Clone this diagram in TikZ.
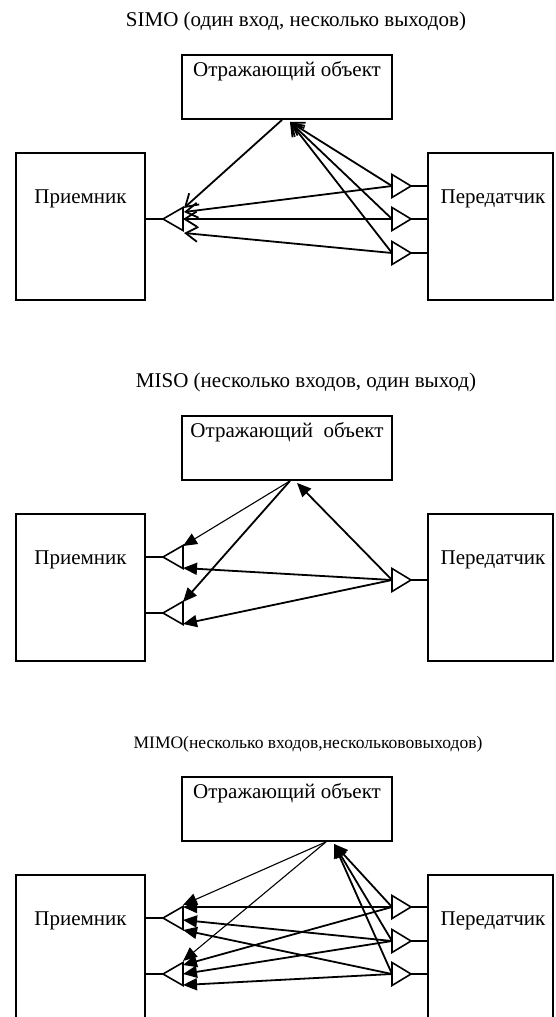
\documentclass[tikz,border=0pt]{standalone}
\usepackage{fontspec}
\setmainfont{Liberation Serif}
\usetikzlibrary{arrows.meta,positioning}

\tikzset{
  blk/.style={draw, line width=1.8pt, inner sep=0pt},
  lab/.style={font=\fontsize{21}{25}\selectfont, inner sep=0pt, anchor=base},
  ant/.style={line width=1.6pt},
  ray/.style={line width=1.8pt},
  thinray/.style={line width=1.1pt},
  vee/.style={-{Straight Barb[length=12pt,width=15pt]}},
  tri/.style={-{Triangle[length=14pt,width=12pt]}},
}

% receiver / transmitter antenna: name, y
\newcommand\rxant[2]{%
  \coordinate (#1) at (183,#2);
  \draw[ant] (rx.east |- #1) -- (163,#2);
  \draw[ant] (163,#2) -- (183,#2-11.5) -- (183,#2+11.5) -- cycle;}
\newcommand\txant[2]{%
  \coordinate (#1) at (392,#2);
  \draw[ant] (tx.west |- #1) -- (411,#2);
  \draw[ant] (411,#2) -- (392,#2-11.5) -- (392,#2+11.5) -- cycle;}

% the three blocks of one section
\newcommand\blocks{%
  \node[blk, minimum width=129pt, minimum height=147pt] (rx) at (80.5,226.5) {};
  \node[blk, minimum width=125pt, minimum height=147pt] (tx) at (490.5,226.5) {};
  \node[blk, minimum width=210pt, minimum height=64pt] (rf) at (287,87) {};
  \node[lab] (rxl) at ([yshift=-51pt]rx.north) {Приемник};
  \node[lab] (txl) at ([xshift=2.5pt,yshift=-51pt]tx.north) {Передатчик};}

\begin{document}
\begin{tikzpicture}[x=1pt,y=-1pt]
\useasboundingbox (0,0) rectangle (555,1017);

% SIMO
\begin{scope}[name prefix=s1-]
  \blocks
  \node[lab] (rfl) at ([yshift=-22pt]rf.north) {Отражающий объект};
  \node[lab] (ttl) at (296,26) {SIMO (один вход, несколько выходов)};
  \rxant{r}{219}
  \txant{t1}{186} \txant{t2}{219} \txant{t3}{253}
  \coordinate (ro) at ([xshift=-5pt]rf.south);
  \coordinate (ri) at ([xshift=3pt,yshift=-2pt]rf.south);
  \coordinate (ra) at (184,208);
  \coordinate (rb) at (184,212);
  \coordinate (rc) at (184,233);
  \draw[ray,vee] (ro) -- (ra);
  \draw[ray,vee] (t1) -- (rb);
  \draw[ray,vee] (t2) -- (r);
  \draw[ray,vee] (t3) -- (rc);
  \draw[ray,vee] (t1) -- (ri);
  \draw[ray,vee] (t2) -- (ri);
  \draw[ray,vee] (t3) -- (ri);
\end{scope}

% MISO
\begin{scope}[yshift=-361pt, name prefix=s2-]
  \blocks
  \node[lab] (rfl) at ([yshift=-22pt]rf.north) {Отражающий\ \ объект};
  \node[lab] (ttl) at (306,26) {MISO (несколько входов, один выход)};
  \rxant{r1}{196} \rxant{r2}{252}
  \txant{t}{219}
  \coordinate (ro) at ([xshift=3pt]rf.south);
  \coordinate (ri) at ([xshift=10pt,yshift=-2pt]rf.south);
  \coordinate (r1t) at (183,185);
  \coordinate (r1b) at (183,207);
  \coordinate (r2t) at (183,241);
  \coordinate (r2b) at (183,263);
  \draw[thinray,tri] (ro) -- (r1t);
  \draw[ray,tri] (ro) -- (r2t);
  \draw[ray,tri] (t) -- (r1b);
  \draw[ray,tri] (t) -- (r2b);
  \draw[ray,tri] (t) -- (ri);
\end{scope}

% MIMO
\begin{scope}[yshift=-722pt, name prefix=s3-]
  \blocks
  \node[lab] (rfl) at ([yshift=-22pt]rf.north) {Отражающий объект};
  \node[lab, font=\fontsize{17.5}{20}\selectfont] (ttl) at (308,26) {MIMO(несколько входов,несколькововыходов)};
  \rxant{r1}{196} \rxant{r2}{252}
  \txant{t1}{185} \txant{t2}{219} \txant{t3}{252}
  \coordinate (ro) at ([xshift=39pt]rf.south);
  \coordinate (ri) at ([xshift=47pt,yshift=-2pt]rf.south);
  \coordinate (r1a) at (183,183);
  \coordinate (r1b) at (183,185);
  \coordinate (r1c) at (183,198);
  \coordinate (r1d) at (183,208);
  \coordinate (r2a) at (183,239);
  \coordinate (r2b) at (183,243);
  \coordinate (r2d) at (183,263);
  \draw[thinray,tri] (ro) -- (r1a);
  \draw[thinray,tri] (ro) -- (r2a);
  \draw[ray,tri] (t1) -- (r1b);
  \draw[ray,tri] (t2) -- (r1c);
  \draw[ray,tri] (t3) -- (r1d);
  \draw[ray,tri] (t1) -- (r2b);
  \draw[ray,tri] (t2) -- (r2);
  \draw[ray,tri] (t3) -- (r2d);
  \draw[ray,tri] (t1) -- (ri);
  \draw[ray,tri] (t2) -- (ri);
  \draw[ray,tri] (t3) -- (ri);
\end{scope}
\end{tikzpicture}
\end{document}
